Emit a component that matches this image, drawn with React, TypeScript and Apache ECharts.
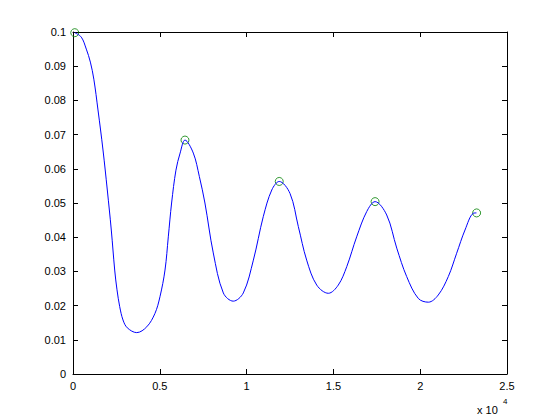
import React, { useEffect, useRef } from "react";
import * as echarts from "echarts";

const curveX = [100, 478, 766, 1000, 1200, 1440, 1728, 1976, 2206, 2402, 2535, 2690, 2880, 3128, 3670, 4250, 4720, 5010, 5300, 5490, 5680, 5930, 6170, 6450, 6930, 7280, 7600, 8080, 8660, 9230, 9810, 10390, 10960, 11450, 11880, 12500, 12980, 13460, 14040, 14710, 15280, 15770, 16340, 16920, 17400, 18070, 18650, 19220, 19890, 20470, 21040, 21620, 22100, 22580, 23060, 23240];
const curveY = [0.0998, 0.0985, 0.095, 0.0912, 0.0862, 0.0772, 0.0655, 0.0538, 0.0421, 0.0304, 0.0246, 0.0197, 0.0158, 0.0135, 0.0121, 0.0138, 0.0177, 0.0226, 0.0304, 0.0401, 0.05, 0.0596, 0.0646, 0.0684, 0.0646, 0.0577, 0.05, 0.0354, 0.0237, 0.0213, 0.0237, 0.0333, 0.046, 0.0538, 0.0563, 0.0528, 0.0431, 0.0333, 0.026, 0.0236, 0.026, 0.0314, 0.0401, 0.0475, 0.0504, 0.0465, 0.0368, 0.0285, 0.0221, 0.021, 0.0231, 0.0285, 0.0353, 0.0421, 0.047, 0.0471];
const peakX = [100, 6450, 11880, 17400, 23250];
const peakY = [0.0998, 0.0684, 0.0563, 0.0504, 0.0471];
const xTickLabels = ["0", "0.5", "1", "1.5", "2", "2.5"];
const yTickLabels = ["0", "0.01", "0.02", "0.03", "0.04", "0.05", "0.06", "0.07", "0.08", "0.09", "0.1"];

export default function App() {
  const ref = useRef<HTMLDivElement>(null);
  useEffect(() => {
    document.body.style.margin = "0";
    document.body.style.overflow = "hidden";
    if (!ref.current) return;
    const chart = echarts.init(ref.current, null, { renderer: "svg" });
    const font = "'Liberation Sans', Arial, Helvetica, sans-serif";
    const axisCommon = {
      axisLine: { show: true, onZero: false, lineStyle: { color: "#000", width: 1 } },
      axisTick: { show: true, inside: true, length: 5, lineStyle: { color: "#000", width: 1 } },
      splitLine: { show: false },
    };
    chart.setOption({
      animation: false,
      backgroundColor: "#fff",
      grid: { left: 73, right: 53, top: 32, bottom: 46, containLabel: false },
      xAxis: [
        {
          type: "value", min: 0, max: 25000, interval: 5000, position: "bottom",
          ...axisCommon,
          axisLabel: {
            color: "#000", fontSize: 11, fontFamily: font, margin: 6,
            formatter: (v: number) => xTickLabels[Math.round(v / 5000)] ?? "",
          },
        },
        {
          type: "value", min: 0, max: 25000, interval: 5000, position: "top",
          ...axisCommon, axisLabel: { show: false },
        },
      ],
      yAxis: [
        {
          type: "value", min: 0, max: 0.1, interval: 0.01, position: "left",
          ...axisCommon,
          axisLabel: {
            color: "#000", fontSize: 11, fontFamily: font, margin: 7,
            formatter: (v: number) => yTickLabels[Math.round(v / 0.01)] ?? "",
          },
        },
        {
          type: "value", min: 0, max: 0.1, interval: 0.01, position: "right",
          ...axisCommon, axisLabel: { show: false },
        },
      ],
      series: [
        {
          type: "line",
          data: curveX.map((x, i) => [x, curveY[i]]),
          smooth: 0.35,
          showSymbol: false,
          lineStyle: { color: "#0000ff", width: 1 },
          itemStyle: { color: "#0000ff" },
        },
        {
          type: "scatter",
          data: peakX.map((x, i) => [x, peakY[i]]),
          symbol: "circle",
          symbolSize: 8,
          itemStyle: { color: "rgba(0,0,0,0)", borderColor: "#008000", borderWidth: 1 },
        },
      ],
      graphic: [
        { type: "text", x: 477, y: 404, style: { text: "x 10", fontSize: 11, fontFamily: font, fill: "#000", verticalAlign: "top", align: "left" } },
        { type: "text", x: 503, y: 397, style: { text: "4", fontSize: 8, fontFamily: font, fill: "#000", verticalAlign: "top", align: "left" } },
      ],
    });
    return () => chart.dispose();
  }, []);
  return <div ref={ref} style={{ width: 560, height: 420 }} />;
}
